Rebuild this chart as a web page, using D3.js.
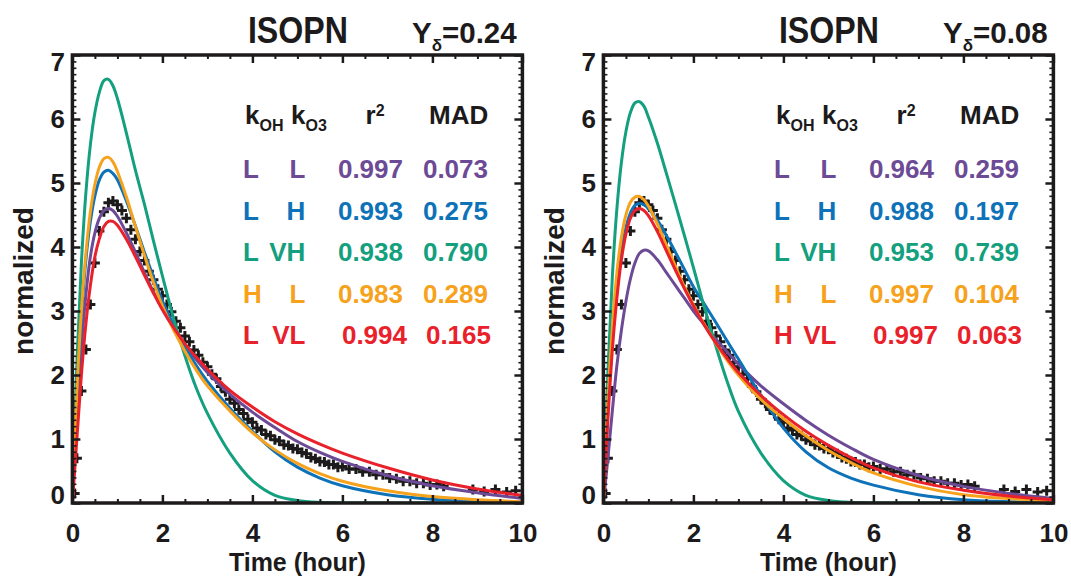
<!DOCTYPE html>
<html>
<head>
    <title>ISOPN normalized decay</title>
    <script src='https://d3js.org/d3.v7.min.js'></script>
    <style>
        html, body {margin: 0; padding: 0; background: #fff;}
        svg text {font-family: 'Liberation Sans', Arial, Helvetica, sans-serif; font-weight: bold; fill: #1c1a1b;}
    </style>
</head>
<body>
<div id="vis"></div>
<script>

// model time axis (hours) shared by every fitted curve
var modelTime = [0, 0.1, 0.2, 0.3, 0.4, 0.5, 0.6, 0.7, 0.8, 0.9, 1.0, 1.2, 1.4, 1.6, 1.8, 2.0, 2.25, 2.5, 2.75, 3.0, 3.5, 4.0, 4.5, 5.0, 5.5, 6.0, 7.0, 8.0, 9.0, 10.0];

// left panel (Y_delta = 0.24)
var leftLL  = [0, 1.35, 2.45, 3.25, 3.85, 4.22, 4.45, 4.57, 4.6, 4.57, 4.48, 4.22, 3.92, 3.6, 3.3, 3.03, 2.73, 2.47, 2.24, 2.04, 1.7, 1.42, 1.18, 0.96, 0.79, 0.65, 0.43, 0.27, 0.16, 0.07];
var leftLH  = [0, 1.65, 2.9, 3.8, 4.4, 4.8, 5.05, 5.17, 5.2, 5.15, 5.05, 4.72, 4.33, 3.92, 3.53, 3.16, 2.78, 2.45, 2.15, 1.9, 1.48, 1.12, 0.8, 0.56, 0.39, 0.27, 0.13, 0.06, 0.03, 0.01];
var leftLVH = [0, 2.2, 3.75, 4.85, 5.6, 6.1, 6.42, 6.6, 6.62, 6.52, 6.32, 5.78, 5.2, 4.67, 4.1, 3.55, 2.88, 2.3, 1.8, 1.4, 0.78, 0.35, 0.12, 0.04, 0.01, 0, 0, 0, 0, 0];
var leftHL  = [0, 1.75, 3.0, 3.9, 4.55, 4.98, 5.25, 5.38, 5.4, 5.33, 5.18, 4.78, 4.32, 3.87, 3.45, 3.08, 2.7, 2.37, 2.08, 1.83, 1.44, 1.1, 0.83, 0.62, 0.46, 0.34, 0.19, 0.1, 0.05, 0.02];
var leftLVL = [0, 1.0, 2.0, 2.8, 3.4, 3.85, 4.13, 4.32, 4.4, 4.4, 4.34, 4.12, 3.85, 3.56, 3.28, 3.02, 2.74, 2.49, 2.28, 2.09, 1.76, 1.5, 1.27, 1.08, 0.92, 0.78, 0.55, 0.36, 0.22, 0.12];

// right panel (Y_delta = 0.08)
var rightLL  = [0, 0.7, 1.45, 2.15, 2.7, 3.15, 3.5, 3.75, 3.9, 3.95, 3.94, 3.8, 3.6, 3.4, 3.2, 3.0, 2.78, 2.56, 2.36, 2.17, 1.83, 1.55, 1.29, 1.06, 0.86, 0.68, 0.43, 0.26, 0.15, 0.07];
var rightLH  = [0, 1.45, 2.55, 3.35, 3.92, 4.3, 4.53, 4.65, 4.68, 4.66, 4.6, 4.42, 4.18, 3.92, 3.65, 3.38, 3.1, 2.82, 2.53, 2.25, 1.68, 1.17, 0.8, 0.55, 0.39, 0.28, 0.13, 0.05, 0.02, 0.01];
var rightLVH = [0, 2.05, 3.55, 4.6, 5.32, 5.8, 6.1, 6.25, 6.27, 6.2, 6.03, 5.62, 5.15, 4.67, 4.18, 3.68, 3.04, 2.45, 1.9, 1.43, 0.78, 0.35, 0.12, 0.04, 0.01, 0, 0, 0, 0, 0];
var rightHL  = [0, 1.6, 2.75, 3.6, 4.15, 4.5, 4.7, 4.78, 4.79, 4.74, 4.64, 4.36, 4.03, 3.7, 3.38, 3.1, 2.78, 2.49, 2.23, 2.0, 1.62, 1.32, 1.05, 0.82, 0.63, 0.47, 0.26, 0.13, 0.07, 0.03];
var rightHVL = [0, 1.3, 2.4, 3.2, 3.8, 4.2, 4.45, 4.57, 4.6, 4.57, 4.49, 4.24, 3.94, 3.64, 3.35, 3.08, 2.77, 2.5, 2.26, 2.04, 1.68, 1.38, 1.12, 0.9, 0.71, 0.55, 0.33, 0.2, 0.11, 0.05];

// measured points (same in both panels)
var obsTime = [0.05, 0.1, 0.2, 0.3, 0.4, 0.5, 0.6, 0.7, 0.8, 0.9,
    1.0, 1.1, 1.2, 1.3, 1.4, 1.5, 1.6, 1.7, 1.8, 1.9,
    2.0, 2.1, 2.2, 2.3, 2.4, 2.5, 2.6, 2.7, 2.8, 2.9,
    3.0, 3.1, 3.2, 3.3, 3.4, 3.5, 3.6, 3.7, 3.8, 3.9,
    4.0, 4.1, 4.2, 4.3, 4.4, 4.5, 4.6, 4.7, 4.8, 4.9,
    5.0, 5.1, 5.2, 5.3, 5.4, 5.5, 5.6, 5.7, 5.8, 5.9,
    6.0, 6.15, 6.3, 6.45, 6.6, 6.75, 6.9, 7.05, 7.2, 7.35,
    7.5, 7.65, 7.8, 7.95, 8.1, 8.25, 8.9, 9.15, 9.4, 9.65, 9.85];
var obsValue = [0.15, 0.7, 1.75, 2.4, 3.1, 3.75, 4.25, 4.55, 4.69, 4.72,
    4.66, 4.57, 4.45, 4.27, 4.12, 3.93, 3.79, 3.62, 3.49, 3.34,
    3.24, 3.10, 2.99, 2.84, 2.74, 2.61, 2.52, 2.39, 2.31, 2.20,
    2.13, 2.01, 1.94, 1.82, 1.74, 1.62, 1.56, 1.46, 1.40, 1.31,
    1.26, 1.17, 1.14, 1.07, 1.05, 0.99, 0.97, 0.91, 0.90, 0.85,
    0.84, 0.79, 0.77, 0.71, 0.69, 0.65, 0.64, 0.60, 0.60, 0.56,
    0.57, 0.53, 0.53, 0.49, 0.49, 0.44, 0.44, 0.39, 0.38, 0.34,
    0.34, 0.31, 0.31, 0.28, 0.29, 0.26, 0.21, 0.18, 0.21, 0.17, 0.19];

// legend table
var leftKOH = ['L', 'L', 'L', 'H', 'L'];
var leftKO3 = ['L', 'H', 'VH', 'L', 'VL'];
var leftR2  = [0.997, 0.993, 0.938, 0.983, 0.994];
var leftMAD = [0.073, 0.275, 0.790, 0.289, 0.165];
var rightKOH = ['L', 'L', 'L', 'H', 'H'];
var rightKO3 = ['L', 'H', 'VH', 'L', 'VL'];
var rightR2  = [0.964, 0.988, 0.953, 0.997, 0.997];
var rightMAD = [0.259, 0.197, 0.739, 0.104, 0.063];
var seriesColors = ['#6c4a96', '#0e72b8', '#14a07f', '#f6a21d', '#e9212b'];

var titles = ['ISOPN', 'ISOPN'];
var yieldValues = ['0.24', '0.08'];
var xTicks = [0, 2, 4, 6, 8, 10];
var yTicks = [0, 1, 2, 3, 4, 5, 6, 7];

var width = 1071, height = 576;
var plotTop = 55, plotBottom = 503, plotWidth = 450;

var svg = d3.select('#vis').append('svg')
    .attr('width', width)
    .attr('height', height);

var panels = [
    {left: 72.4, curves: [leftLL, leftLH, leftLVH, leftHL, leftLVL], koh: leftKOH, ko3: leftKO3, r2: leftR2, mad: leftMAD},
    {left: 603.4, curves: [rightLL, rightLH, rightLVH, rightHL, rightHVL], koh: rightKOH, ko3: rightKO3, r2: rightR2, mad: rightMAD}
];

panels.forEach(function(p, i) { draw_panel(p, i); });

function style_axis(g, w) {
    g.select('.domain').remove();
    g.selectAll('line').attr('stroke', '#1c1a1b').attr('stroke-width', w);
    g.selectAll('text').attr('font-size', 26);
}

function draw_panel(p, i) {
    var x = d3.scaleLinear().domain([0, 10]).range([p.left, p.left + plotWidth]);
    var y = d3.scaleLinear().domain([0, 7]).range([plotBottom, plotTop]);
    var g = svg.append('g');

    g.append('clipPath').attr('id', 'clip' + i)
        .append('rect')
        .attr('x', p.left).attr('y', plotTop)
        .attr('width', plotWidth).attr('height', plotBottom - plotTop);

    var plot = g.append('g').attr('clip-path', 'url(#clip' + i + ')');

    // measured points as crosses
    plot.selectAll('.obs').data(obsTime).enter().append('path')
        .attr('class', 'obs')
        .attr('d', 'M-5,0H5M0,-5V5')
        .attr('transform', function(d, j) { return 'translate(' + x(d) + ',' + y(obsValue[j]) + ')'; })
        .attr('fill', 'none')
        .attr('stroke', '#1c1a1b')
        .attr('stroke-width', 3);

    var line = d3.line()
        .x(function(d, j) { return x(modelTime[j]); })
        .y(function(d) { return y(d); })
        .curve(d3.curveCatmullRom.alpha(0.5));

    p.curves.forEach(function(c, k) {
        plot.append('path')
            .attr('d', line(c))
            .attr('fill', 'none')
            .attr('stroke', seriesColors[k])
            .attr('stroke-width', 3);
    });

    // axes, ticks pointing inward
    var xMinor = d3.range(0.5, 10, 0.5).filter(function(d) { return d % 2 != 0; });
    var yMinor = d3.range(1, 70).filter(function(d) { return d % 10 != 0; }).map(function(d) { return d / 10; });

    var gb = g.append('g').attr('transform', 'translate(0,' + plotBottom + ')')
        .call(d3.axisBottom(x).tickValues(xTicks).tickSize(-8).tickSizeOuter(0).tickPadding(20.5).tickFormat(d3.format('d')));
    style_axis(gb, 2.5);
    style_axis(g.append('g').attr('transform', 'translate(0,' + plotBottom + ')')
        .call(d3.axisBottom(x).tickValues(xMinor).tickSize(-4).tickSizeOuter(0).tickFormat('')), 2);
    style_axis(g.append('g').attr('transform', 'translate(0,' + plotTop + ')')
        .call(d3.axisTop(x).tickValues(xTicks).tickSize(-8).tickSizeOuter(0).tickFormat('')), 2.5);
    style_axis(g.append('g').attr('transform', 'translate(0,' + plotTop + ')')
        .call(d3.axisTop(x).tickValues(xMinor).tickSize(-4).tickSizeOuter(0).tickFormat('')), 2);

    var gl = g.append('g').attr('transform', 'translate(' + p.left + ',0)')
        .call(d3.axisLeft(y).tickValues(yTicks).tickSize(-8).tickSizeOuter(0).tickPadding(7.5).tickFormat(d3.format('d')));
    style_axis(gl, 2.5);
    // end labels sit inside the axis range
    gl.selectAll('text').attr('y', function(d) { return d == 7 ? 7.5 : (d == 0 ? -8 : 0); });
    style_axis(g.append('g').attr('transform', 'translate(' + p.left + ',0)')
        .call(d3.axisLeft(y).tickValues(yMinor).tickSize(-4).tickSizeOuter(0).tickFormat('')), 1.6);
    style_axis(g.append('g').attr('transform', 'translate(' + (p.left + plotWidth) + ',0)')
        .call(d3.axisRight(y).tickValues(yTicks).tickSize(-8).tickSizeOuter(0).tickFormat('')), 2.5);
    style_axis(g.append('g').attr('transform', 'translate(' + (p.left + plotWidth) + ',0)')
        .call(d3.axisRight(y).tickValues(yMinor).tickSize(-4).tickSizeOuter(0).tickFormat('')), 1.6);

    g.append('rect')
        .attr('x', p.left).attr('y', plotTop)
        .attr('width', plotWidth).attr('height', plotBottom - plotTop)
        .attr('fill', 'none').attr('stroke', '#1c1a1b').attr('stroke-width', 3.5);

    // titles
    g.append('text')
        .attr('x', p.left + 225.5).attr('y', 43)
        .attr('text-anchor', 'middle')
        .attr('font-size', 36)
        .attr('textLength', 100).attr('lengthAdjust', 'spacingAndGlyphs')
        .text(titles[i]);
    var yd = g.append('text').attr('x', p.left + 339.6).attr('y', 43).attr('font-size', 29.5);
    yd.append('tspan').text('Y');
    yd.append('tspan').attr('font-size', 17).attr('dy', 8).text('\u03b4');
    yd.append('tspan').attr('dy', -8).text('=' + yieldValues[i]);

    g.append('text')
        .attr('transform', 'translate(' + (p.left - 39.4) + ',281) rotate(-90)')
        .attr('text-anchor', 'middle')
        .attr('font-size', 28)
        .text('normalized');
    g.append('text')
        .attr('x', p.left + 225).attr('y', 571)
        .attr('text-anchor', 'middle')
        .attr('font-size', 25)
        .text('Time (hour)');

    // legend header
    var h1 = g.append('text').attr('x', p.left + 172.6).attr('y', 124).attr('font-size', 26);
    h1.append('tspan').text('k');
    h1.append('tspan').attr('font-size', 16).attr('dy', 7).text('OH');
    var h2 = g.append('text').attr('x', p.left + 218.6).attr('y', 124).attr('font-size', 26);
    h2.append('tspan').text('k');
    h2.append('tspan').attr('font-size', 16).attr('dy', 7).text('O3');
    var h3 = g.append('text').attr('x', p.left + 293.1).attr('y', 124).attr('font-size', 26);
    h3.append('tspan').text('r');
    h3.append('tspan').attr('font-size', 16).attr('dy', -8).text('2');
    g.append('text').attr('x', p.left + 356.6).attr('y', 124).attr('font-size', 26).text('MAD');

    var fmt = d3.format('.3f');
    var rows = g.selectAll('.row').data(p.koh).enter().append('g')
        .attr('class', 'row')
        .attr('transform', function(d, j) { return 'translate(0,' + (178 + j * 41.5) + ')'; });
    rows.append('text').attr('x', p.left + 170.6).attr('font-size', 26)
        .style('fill', function(d, j) { return seriesColors[j]; })
        .text(function(d) { return d; });
    rows.append('text').attr('x', p.left + 233).attr('text-anchor', 'end').attr('font-size', 26)
        .style('fill', function(d, j) { return seriesColors[j]; })
        .text(function(d, j) { return p.ko3[j]; });
    rows.append('text').attr('x', function(d, j) { return p.left + 330.6 + (j == 4 ? 4 : 0); })
        .attr('text-anchor', 'end').attr('font-size', 26)
        .style('fill', function(d, j) { return seriesColors[j]; })
        .text(function(d, j) { return fmt(p.r2[j]); });
    rows.append('text').attr('x', function(d, j) { return p.left + 415.6 + (j == 4 ? 3 : 0); })
        .attr('text-anchor', 'end').attr('font-size', 26)
        .style('fill', function(d, j) { return seriesColors[j]; })
        .text(function(d, j) { return fmt(p.mad[j]); });
}

</script>
</body>
</html>
